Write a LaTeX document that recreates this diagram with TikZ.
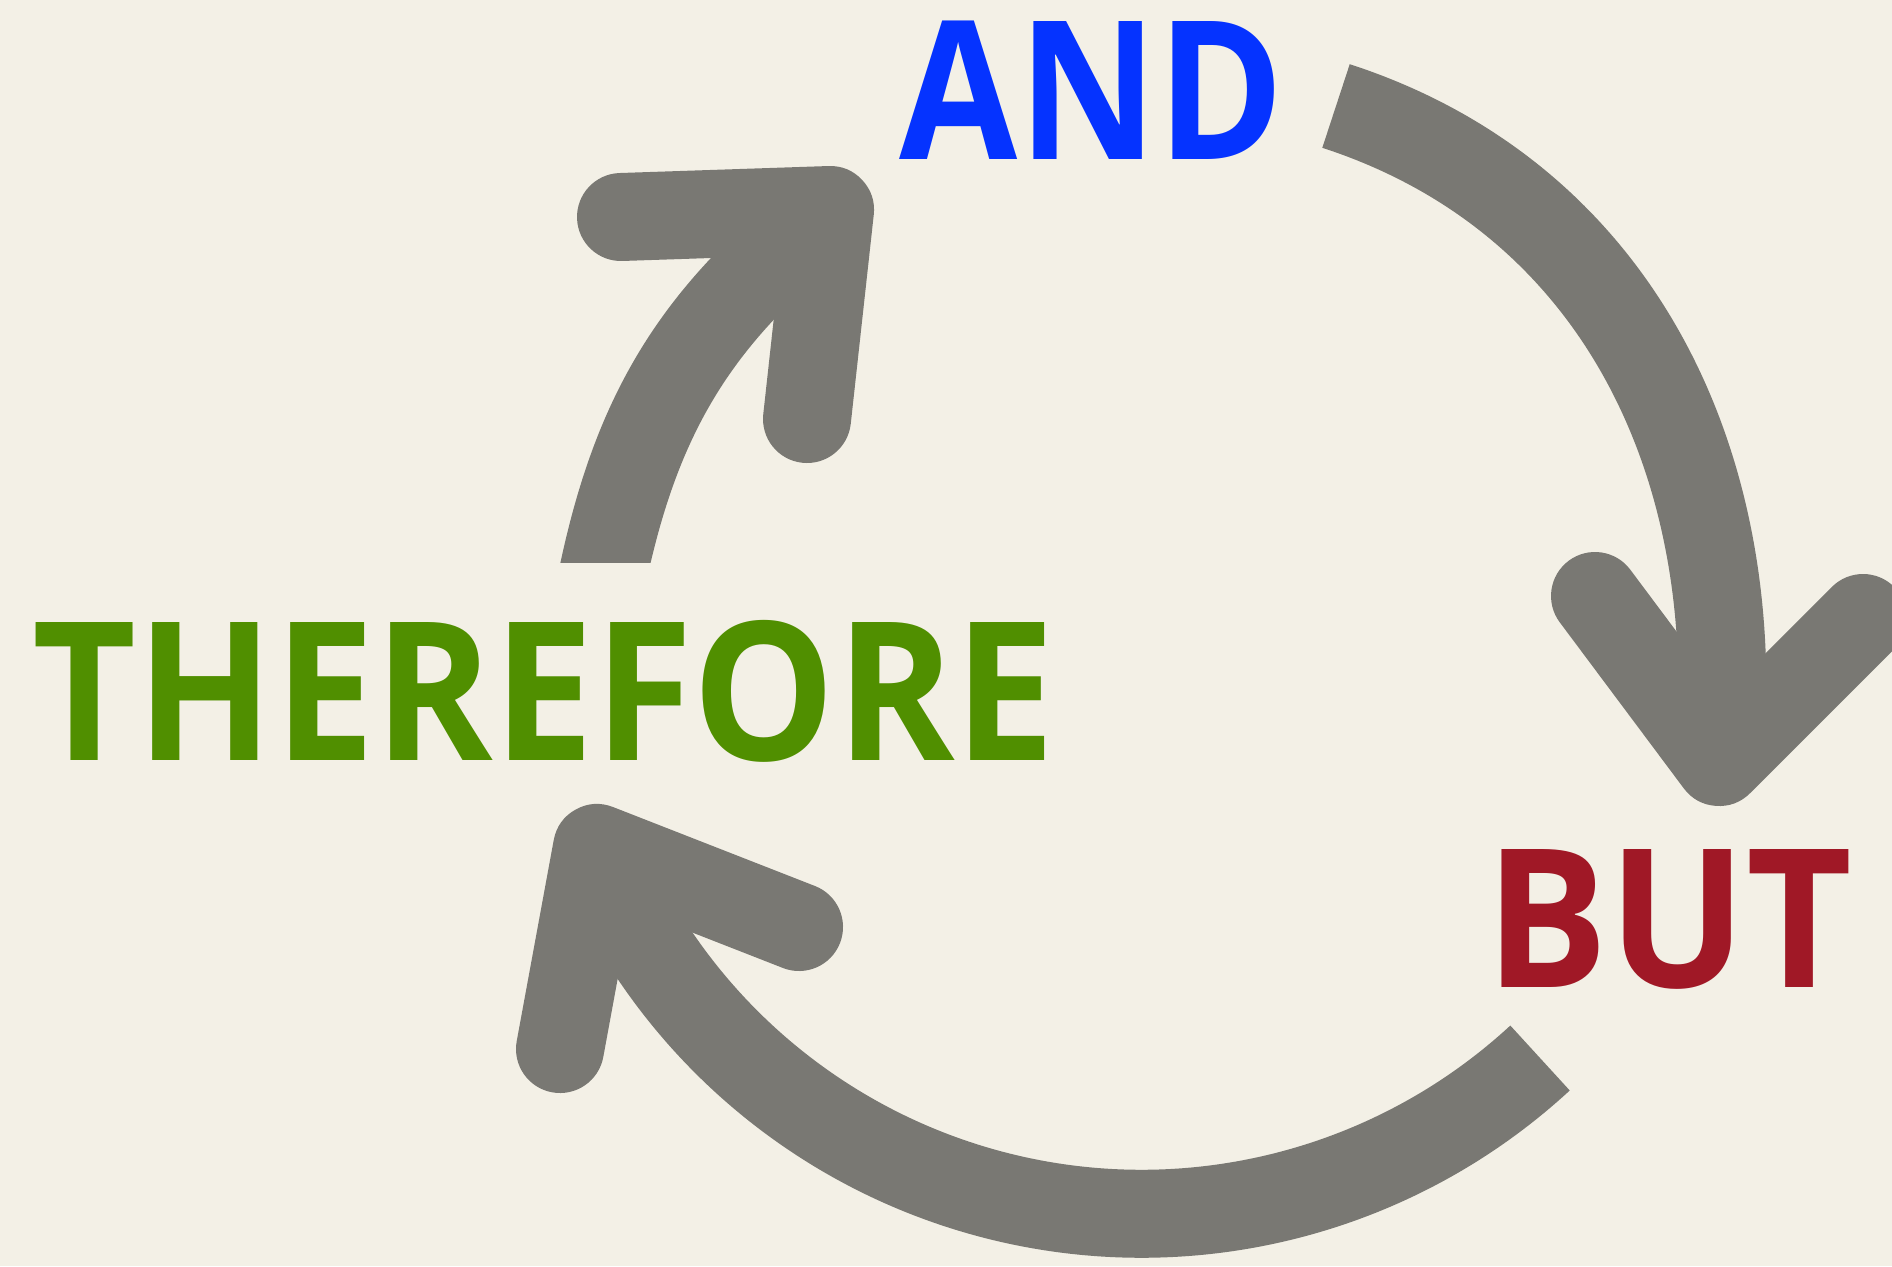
\documentclass[tikz,border=0pt]{standalone}
\usepackage{fontspec}
\setmainfont{Open Sans}
\usepackage{graphicx}
\usepackage{xcolor}
\usepackage{tikz}

\definecolor{paper}{RGB}{243,240,230}
\definecolor{arrowgray}{RGB}{121,120,115}
\definecolor{andblue}{RGB}{5,51,255}
\definecolor{butred}{RGB}{160,24,38}
\definecolor{thusgreen}{RGB}{80,143,0}

\begin{document}
\begin{tikzpicture}[
  word/.style={inner sep=0, anchor=base, font=\fontsize{55}{60}\selectfont\bfseries},
  shaft/.style={draw=arrowgray, line width=0.88cm},
  head/.style={shaft, line cap=round, line join=round}]
\fill[paper] (0,0) rectangle (18.92,12.66);
\useasboundingbox (0,0) rectangle (18.92,12.66);
\clip (0,0) rectangle (18.92,12.66);
% the three words
\node[word, text=andblue] (and) at (10.92,11.07) {\scalebox{0.886}[1]{AND}};
\node[word, text=thusgreen] (therefore) at (5.44,5.06) {\scalebox{0.93}[1]{THEREFORE}};
\node[word, text=butred] (but) at (16.69,2.79) {\scalebox{0.947}[1]{BUT}};
% arc ends and arrow heads
\coordinate (a1s) at (6.03,6.92);  \coordinate (t1) at (8.30,10.56);
\coordinate (h1a) at (6.21,10.49); \coordinate (h1b) at (8.07,8.47);
\coordinate (a2s) at (13.36,11.60); \coordinate (t2) at (17.19,5.04);
\coordinate (h2a) at (15.95,6.70); \coordinate (h2b) at (18.63,6.48);
\coordinate (a3s) at (15.40,2.08); \coordinate (t3) at (5.97,4.18);
\coordinate (h3a) at (7.99,3.39); \coordinate (h3b) at (5.60,2.17);
% therefore -> and (flat cut at the bottom)
\begin{scope}
  \clip (0,7.04) rectangle (18.92,12.66);
  \draw[shaft] (a1s) to[out=78, in=218] (t1);
\end{scope}
\draw[head] (h1a) -- (t1) -- (h1b);
% and -> but
\draw[shaft] (a2s) to[out=-18, in=85] (t2);
\draw[head] (h2a) -- (t2) -- (h2b);
% but -> therefore
\draw[shaft] (a3s) arc[start angle=-47.3, end angle=-157.8, radius=5.876];
\draw[head] (h3a) -- (t3) -- (h3b);
\end{tikzpicture}
\end{document}
